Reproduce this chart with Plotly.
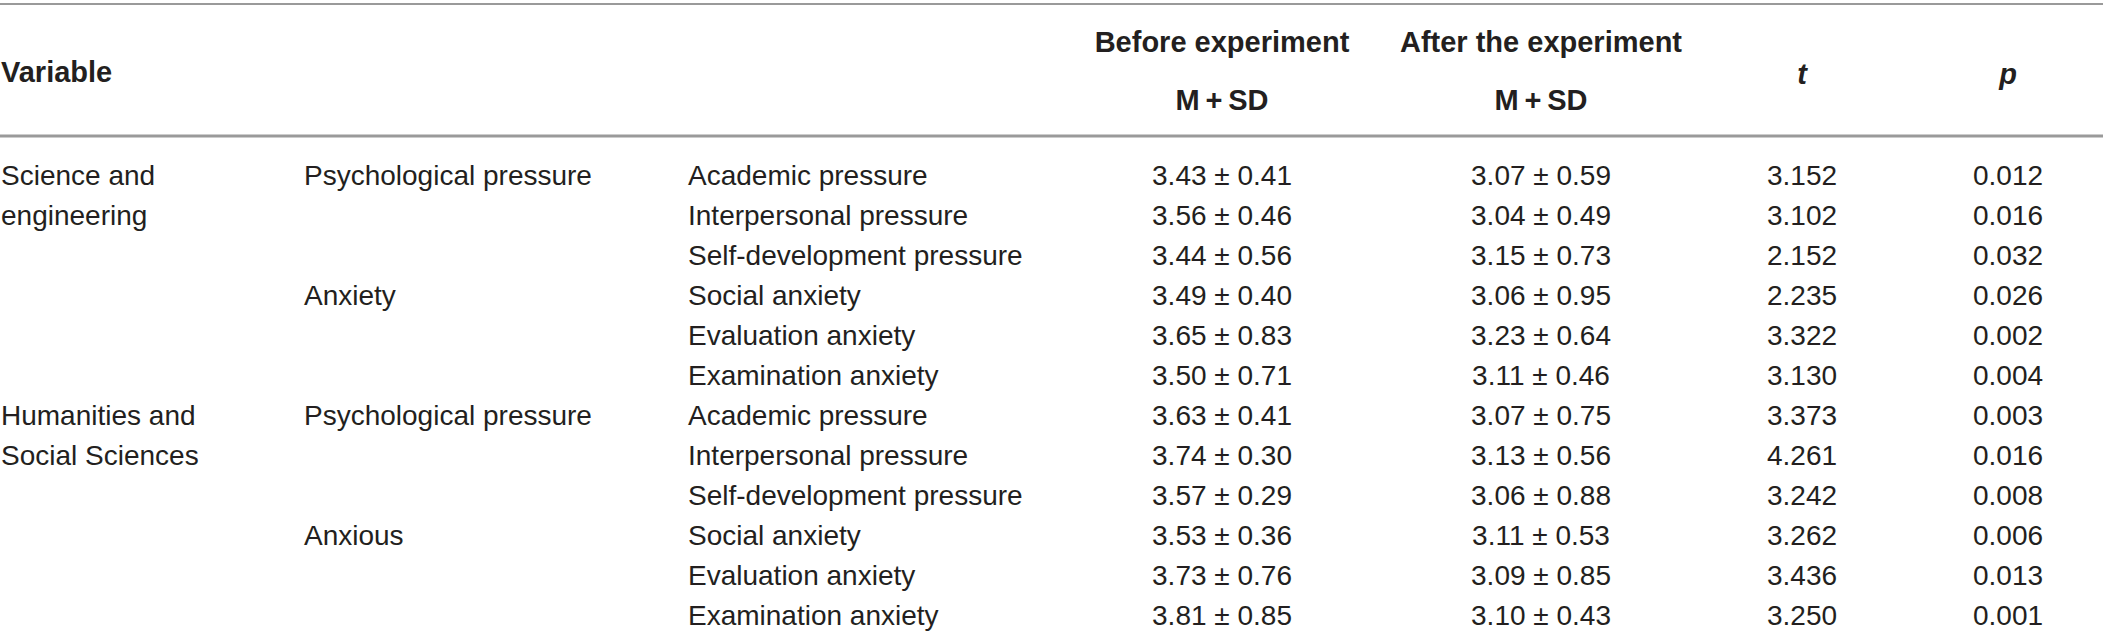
import plotly.graph_objects as go

# table content
groups = [["Science and", "engineering"], ["Humanities and", "Social Sciences"]]
subgroups = ["Psychological pressure", "Anxiety", "Psychological pressure", "Anxious"]
items = ["Academic pressure", "Interpersonal pressure", "Self-development pressure",
         "Social anxiety", "Evaluation anxiety", "Examination anxiety"] * 2
before = ["3.43 ± 0.41", "3.56 ± 0.46", "3.44 ± 0.56", "3.49 ± 0.40", "3.65 ± 0.83", "3.50 ± 0.71",
          "3.63 ± 0.41", "3.74 ± 0.30", "3.57 ± 0.29", "3.53 ± 0.36", "3.73 ± 0.76", "3.81 ± 0.85"]
after = ["3.07 ± 0.59", "3.04 ± 0.49", "3.15 ± 0.73", "3.06 ± 0.95", "3.23 ± 0.64", "3.11 ± 0.46",
         "3.07 ± 0.75", "3.13 ± 0.56", "3.06 ± 0.88", "3.11 ± 0.53", "3.09 ± 0.85", "3.10 ± 0.43"]
t_vals = ["3.152", "3.102", "2.152", "2.235", "3.322", "3.130",
          "3.373", "4.261", "3.242", "3.262", "3.436", "3.250"]
p_vals = ["0.012", "0.016", "0.032", "0.026", "0.002", "0.004",
          "0.003", "0.016", "0.008", "0.006", "0.013", "0.001"]

W, H = 2103, 642
FONT = "Liberation Sans, Arial, sans-serif"
TXT = "#231f20"
FS = 28
FS_HEAD = 29

row0, step = 178, 40
ry = [row0 + step * i for i in range(len(items))]

# column x positions (pixels)
x_grp, x_sub, x_item = 1, 304, 688
x_bef, x_aft, x_t, x_p = 1222, 1541, 1802, 2008

fig = go.Figure()


def col(x, y, text, pos, size=FS):
    fig.add_trace(go.Scatter(
        x=[x] * len(text), y=y, text=text, mode="text",
        textposition=pos, hoverinfo="skip", showlegend=False,
        textfont=dict(family=FONT, size=size, color=TXT)))


# group labels (two lines each, on rows 0-1 and 6-7)
g_txt, g_y = [], []
for gi, lines in enumerate(groups):
    for li, line in enumerate(lines):
        g_txt.append(line)
        g_y.append(ry[gi * 6 + li])
col(x_grp, g_y, g_txt, "middle right")

col(x_sub, [ry[0], ry[3], ry[6], ry[9]], subgroups, "middle right")
col(x_item, ry, items, "middle right")
col(x_bef, ry, before, "middle center")
col(x_aft, ry, after, "middle center")
col(x_t, ry, t_vals, "middle center")
col(x_p, ry, p_vals, "middle center")

# header
col(x_grp, [75], ["<b>Variable</b>"], "middle right", FS_HEAD)
col(x_bef, [45, 103], ["<b>Before experiment</b>", "<b>M\u2009+\u2009SD</b>"], "middle center", FS_HEAD)
col(x_aft, [45, 103], ["<b>After the experiment</b>", "<b>M\u2009+\u2009SD</b>"], "middle center", FS_HEAD)
col(x_t, [77], ["<b><i>t</i></b>"], "middle center", FS_HEAD)
col(x_p, [77], ["<b><i>p</i></b>"], "middle center", FS_HEAD)

# rules
fig.add_shape(type="line", x0=0, x1=W, y0=4, y1=4, line=dict(color="#9a9a9a", width=2))
fig.add_shape(type="line", x0=0, x1=W, y0=136, y1=136, line=dict(color="#9a9a9a", width=3))

fig.update_xaxes(range=[0, W], visible=False, fixedrange=True)
fig.update_yaxes(range=[H, 0], visible=False, fixedrange=True)
fig.update_layout(width=W, height=H, margin=dict(l=0, r=0, t=0, b=0),
                  paper_bgcolor="white", plot_bgcolor="white")

fig.write_html("out.html", config={"displayModeBar": False},
               post_script="document.body.style.margin='0';")
